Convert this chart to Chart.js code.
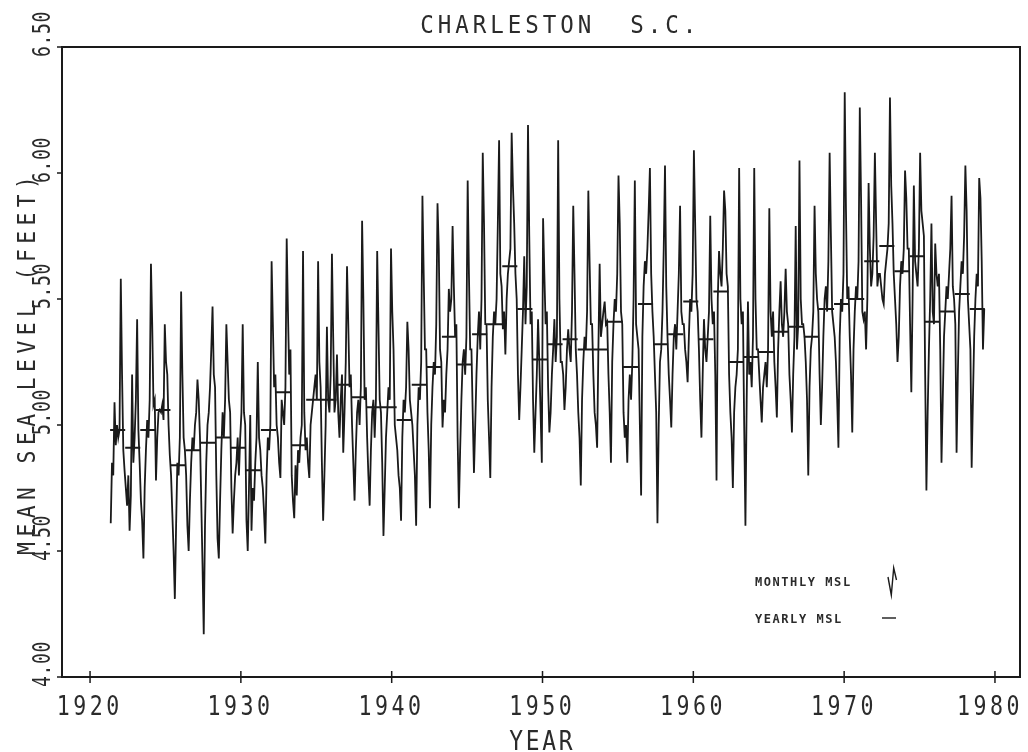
<!DOCTYPE html>
<html>
  <head>
    <title>Charleston S.C. - Mean Sea Level</title>
    <script src="https://cdn.jsdelivr.net/npm/chart.js"></script>
    <style>
      body { margin: 0; background: #fff; }
      #msl-chart { display: block; }
    </style>
  </head>
  <body>
    <canvas id="msl-chart" width="1028" height="752"></canvas>
    <script>
      // yearly bins of the original plot sit about a third of a year right of the tick marks
      var BIN_SHIFT = 0.33;

      var years = [
        1921, 1922, 1923, 1924, 1925, 1926, 1927, 1928, 1929, 1930,
        1931, 1932, 1933, 1934, 1935, 1936, 1937, 1938, 1939, 1940,
        1941, 1942, 1943, 1944, 1945, 1946, 1947, 1948, 1949, 1950,
        1951, 1952, 1953, 1954, 1955, 1956, 1957, 1958, 1959, 1960,
        1961, 1962, 1963, 1964, 1965, 1966, 1967, 1968, 1969, 1970,
        1971, 1972, 1973, 1974, 1975, 1976, 1977, 1978
      ];

      var yearlyMsl = [
        4.98, 4.91, 4.98, 5.06, 4.84, 4.90, 4.93, 4.95, 4.91, 4.82,
        4.98, 5.13, 4.92, 5.10, 5.10, 5.16, 5.11, 5.07, 5.07, 5.02,
        5.16, 5.23, 5.35, 5.24, 5.36, 5.40, 5.63, 5.46, 5.26, 5.32,
        5.34, 5.30, 5.30, 5.41, 5.23, 5.48, 5.32, 5.36, 5.49, 5.34,
        5.53, 5.25, 5.27, 5.29, 5.37, 5.39, 5.35, 5.46, 5.48, 5.50,
        5.65, 5.71, 5.61, 5.67, 5.41, 5.45, 5.52, 5.46
      ];

      // monthly MSL, one row per year (Jan..Dec)
      var monthly1920s = [
        [4.61, 4.85, 4.80, 5.09, 4.92, 5.00, 4.95, 4.98, 5.58, 5.20, 4.90, 4.82],
        [4.75, 4.68, 4.80, 4.58, 4.72, 5.20, 4.85, 4.95, 5.10, 5.42, 4.98, 4.85],
        [4.70, 4.62, 4.47, 4.75, 4.90, 5.02, 4.95, 5.10, 5.64, 5.40, 5.08, 5.10],
        [4.78, 4.95, 5.05, 5.06, 5.05, 5.08, 5.02, 5.40, 5.25, 5.20, 5.00, 4.88],
        [4.80, 4.65, 4.50, 4.31, 4.60, 4.85, 4.80, 4.95, 5.53, 5.20, 4.95, 4.90],
        [4.80, 4.60, 4.50, 4.70, 4.85, 4.95, 4.90, 5.00, 5.05, 5.18, 5.10, 4.95],
        [4.70, 4.45, 4.17, 4.60, 4.85, 5.00, 5.05, 5.15, 5.30, 5.47, 5.20, 5.15],
        [4.80, 4.55, 4.47, 4.70, 4.90, 5.05, 4.95, 5.10, 5.40, 5.25, 5.10, 5.05],
        [4.75, 4.57, 4.70, 4.80, 4.85, 4.95, 4.80, 4.95, 5.05, 5.40, 5.05, 5.00]
      ];
      var monthly1930s = [
        [4.62, 4.50, 4.75, 5.04, 4.58, 4.75, 4.70, 4.85, 4.95, 5.25, 4.95, 4.90],
        [4.80, 4.75, 4.65, 4.53, 4.80, 4.95, 4.90, 5.00, 5.65, 5.40, 5.15, 5.20],
        [5.00, 4.95, 4.85, 4.79, 5.10, 5.05, 5.00, 5.15, 5.74, 5.45, 5.20, 5.30],
        [4.80, 4.70, 4.63, 4.84, 4.72, 4.90, 4.85, 4.95, 5.00, 5.69, 5.05, 4.90],
        [4.95, 4.85, 4.79, 5.00, 5.05, 5.10, 5.15, 5.20, 5.10, 5.65, 5.25, 5.15],
        [4.85, 4.62, 4.80, 5.00, 5.39, 5.10, 5.05, 5.20, 5.68, 5.35, 5.05, 5.10],
        [5.28, 5.05, 4.95, 5.10, 5.20, 4.89, 5.05, 5.25, 5.63, 5.40, 5.15, 5.20],
        [5.00, 4.85, 4.70, 4.90, 5.05, 5.10, 5.00, 5.15, 5.81, 5.50, 5.10, 5.15],
        [4.95, 4.80, 4.68, 4.90, 5.05, 5.10, 4.95, 5.10, 5.69, 5.40, 5.10, 5.05],
        [4.85, 4.56, 4.75, 4.95, 5.05, 5.15, 5.10, 5.70, 5.45, 5.30, 5.00, 4.95]
      ];
      var monthly1940s = [
        [4.90, 4.80, 4.75, 4.62, 4.95, 5.10, 5.05, 5.15, 5.41, 5.30, 5.10, 5.05],
        [5.00, 4.90, 4.80, 4.60, 5.00, 5.15, 5.10, 5.25, 5.91, 5.60, 5.30, 5.30],
        [5.05, 4.90, 4.67, 5.00, 5.15, 5.25, 5.20, 5.40, 5.88, 5.70, 5.30, 5.25],
        [4.99, 5.10, 5.05, 5.20, 5.30, 5.54, 5.45, 5.50, 5.79, 5.55, 5.35, 5.40],
        [4.95, 4.67, 4.90, 5.10, 5.25, 5.30, 5.20, 5.35, 5.97, 5.60, 5.30, 5.30],
        [5.05, 4.81, 5.00, 5.20, 5.35, 5.45, 5.30, 5.50, 6.08, 5.80, 5.40, 5.40],
        [5.10, 4.95, 4.79, 5.15, 5.35, 5.45, 5.40, 5.50, 5.80, 6.13, 5.60, 5.55],
        [5.38, 5.45, 5.28, 5.50, 5.60, 5.65, 5.70, 6.16, 5.95, 5.80, 5.60, 5.50],
        [5.20, 5.02, 5.15, 5.30, 5.45, 5.67, 5.40, 5.55, 6.19, 5.75, 5.40, 5.45],
        [5.10, 4.89, 5.05, 5.20, 5.42, 5.25, 5.05, 4.85, 5.82, 5.60, 5.40, 5.45]
      ];
      var monthly1950s = [
        [5.15, 4.97, 5.05, 5.20, 5.30, 5.42, 5.25, 5.35, 6.13, 5.50, 5.25, 5.25],
        [5.20, 5.06, 5.15, 5.30, 5.38, 5.30, 5.25, 5.45, 5.87, 5.60, 5.30, 5.20],
        [5.05, 4.95, 4.76, 5.10, 5.25, 5.35, 5.30, 5.45, 5.93, 5.65, 5.40, 5.40],
        [5.20, 5.05, 5.00, 4.91, 5.30, 5.64, 5.35, 5.40, 5.45, 5.49, 5.40, 5.41],
        [5.20, 5.05, 4.85, 5.25, 5.40, 5.50, 5.45, 5.60, 5.99, 5.80, 5.45, 5.40],
        [5.05, 4.95, 5.00, 4.85, 5.10, 5.20, 5.10, 5.25, 5.50, 5.97, 5.40, 5.35],
        [5.30, 5.00, 4.72, 5.35, 5.55, 5.65, 5.60, 5.70, 5.85, 6.02, 5.60, 5.45],
        [5.35, 5.20, 5.05, 4.61, 5.00, 5.25, 5.30, 5.45, 5.70, 6.03, 5.55, 5.35],
        [5.20, 5.10, 4.99, 5.20, 5.35, 5.40, 5.30, 5.45, 5.60, 5.87, 5.45, 5.40],
        [5.40, 5.30, 5.25, 5.17, 5.35, 5.50, 5.45, 5.60, 6.09, 5.80, 5.50, 5.45]
      ];
      var monthly1960s = [
        [5.30, 5.10, 4.95, 5.20, 5.42, 5.30, 5.25, 5.35, 5.45, 5.83, 5.50, 5.40],
        [5.45, 5.20, 4.78, 5.50, 5.69, 5.60, 5.55, 5.70, 5.93, 5.85, 5.60, 5.55],
        [5.20, 5.05, 4.95, 4.75, 5.05, 5.15, 5.20, 5.30, 6.02, 5.50, 5.40, 5.45],
        [5.00, 4.60, 5.10, 5.49, 5.20, 5.25, 5.15, 5.35, 6.02, 5.50, 5.30, 5.30],
        [5.20, 5.10, 5.01, 5.15, 5.20, 5.25, 5.15, 5.30, 5.86, 5.45, 5.35, 5.45],
        [5.25, 5.15, 5.03, 5.30, 5.45, 5.57, 5.40, 5.35, 5.45, 5.62, 5.45, 5.40],
        [5.20, 5.10, 4.97, 5.20, 5.35, 5.79, 5.30, 5.40, 6.05, 5.50, 5.40, 5.40],
        [5.35, 5.25, 5.10, 4.80, 5.15, 5.30, 5.35, 5.45, 5.87, 5.60, 5.50, 5.45],
        [5.20, 5.00, 5.15, 5.35, 5.50, 5.55, 5.45, 5.65, 6.08, 5.75, 5.45, 5.40],
        [5.35, 5.25, 5.10, 4.91, 5.35, 5.50, 5.45, 5.60, 6.32, 5.85, 5.50, 5.55]
      ];
      var monthly1970s = [
        [5.35, 5.20, 4.97, 5.30, 5.45, 5.55, 5.50, 5.65, 6.26, 5.90, 5.45, 5.42],
        [5.45, 5.30, 5.50, 5.96, 5.70, 5.55, 5.60, 5.75, 6.08, 5.80, 5.55, 5.60],
        [5.60, 5.55, 5.50, 5.48, 5.60, 5.65, 5.70, 5.80, 6.30, 5.95, 5.80, 5.60],
        [5.50, 5.40, 5.25, 5.35, 5.55, 5.65, 5.60, 5.70, 6.01, 5.90, 5.70, 5.70],
        [5.40, 5.13, 5.50, 5.95, 5.65, 5.60, 5.55, 5.70, 6.08, 5.85, 5.80, 5.75],
        [5.20, 4.74, 5.05, 5.30, 5.50, 5.80, 5.45, 5.40, 5.72, 5.60, 5.55, 5.60],
        [5.30, 4.85, 5.10, 5.35, 5.45, 5.55, 5.50, 5.60, 5.70, 5.91, 5.55, 5.50],
        [5.40, 4.89, 5.20, 5.45, 5.55, 5.65, 5.60, 5.75, 6.03, 5.85, 5.50, 5.40],
        [5.30, 4.83, 5.10, 5.35, 5.50, 5.60, 5.55, 5.98, 5.90, 5.65, 5.30, 5.46]
      ];

      var xTickYears = [1920, 1930, 1940, 1950, 1960, 1970, 1980];
      var yTickValues = [4.0, 4.5, 5.0, 5.5, 6.0, 6.5];
      var yTickLabels = ['4.00', '4.50', '5.00', '5.50', '6.00', '6.50'];

      var monthlyRows = monthly1920s.concat(monthly1930s, monthly1940s,
        monthly1950s, monthly1960s, monthly1970s);

      var monthlyPoints = [];
      years.forEach(function (yr, i) {
        monthlyRows[i].forEach(function (v, m) {
          monthlyPoints.push({ x: yr + BIN_SHIFT + (m + 0.5) / 12, y: v });
        });
      });

      var yearlyPoints = [];
      years.forEach(function (yr, i) {
        yearlyPoints.push({ x: yr + BIN_SHIFT, y: yearlyMsl[i] });
        yearlyPoints.push({ x: yr + 1 + BIN_SHIFT, y: yearlyMsl[i] });
        yearlyPoints.push({ x: yr + 1 + BIN_SHIFT, y: null });
      });

      var plotterFont = "'DejaVu Sans Mono', 'Liberation Mono', monospace";
      var ink = '#1a1a1a';
      var textInk = '#2b2b2b';

      // draw text one glyph at a time, like a pen plotter
      function drawChars(c, text, x, y, pitch, squeeze) {
        for (var i = 0; i < text.length; i++) {
          c.save();
          c.translate(x + i * pitch, y);
          c.scale(squeeze, 1);
          c.fillText(text[i], 0, 0);
          c.restore();
        }
      }

      var plotterAxes = {
        id: 'plotterAxes',
        afterDraw: function (chart) {
          var c = chart.ctx;
          var area = chart.chartArea;
          var xs = chart.scales.x;
          var ys = chart.scales.y;
          c.save();
          c.strokeStyle = ink;
          c.fillStyle = textInk;

          // frame
          c.lineWidth = 2;
          c.strokeRect(area.left, area.top, area.right - area.left, area.bottom - area.top);

          // tick marks
          c.lineWidth = 1.5;
          xTickYears.forEach(function (yr) {
            var px = xs.getPixelForValue(yr);
            c.beginPath();
            c.moveTo(px, area.bottom - 6);
            c.lineTo(px, area.bottom + 6);
            c.stroke();
          });
          yTickValues.forEach(function (v) {
            var py = ys.getPixelForValue(v);
            c.beginPath();
            c.moveTo(area.left - 5, py);
            c.lineTo(area.left, py);
            c.stroke();
          });

          c.textAlign = 'center';
          c.textBaseline = 'alphabetic';

          // x tick labels
          c.font = '27px ' + plotterFont;
          xTickYears.forEach(function (yr) {
            var label = String(yr);
            var pitch = 16.5;
            var half = (label.length - 1) * pitch / 2 + 7;
            var cx = Math.min(xs.getPixelForValue(yr) - 2, area.right - half);
            drawChars(c, label, cx - (label.length - 1) * pitch / 2, area.bottom + 38, pitch, 0.8);
          });

          // y tick labels, rotated
          c.font = '24px ' + plotterFont;
          yTickValues.forEach(function (v, i) {
            var py = ys.getPixelForValue(v);
            c.save();
            c.translate(area.left - 12, py + 4.5);
            c.rotate(-Math.PI / 2);
            drawChars(c, yTickLabels[i], 0, 0, 11.5, 0.75);
            c.restore();
          });

          // axis titles
          c.font = '25px ' + plotterFont;
          var yTitle = 'MEAN SEA LEVEL (FEET)';
          var midY = (area.top + area.bottom) / 2;
          c.save();
          c.translate(area.left - 27, midY + 3.5 + (yTitle.length - 1) * 18.3 / 2);
          c.rotate(-Math.PI / 2);
          drawChars(c, yTitle, 0, 0, 18.3, 0.85);
          c.restore();

          c.font = '27px ' + plotterFont;
          var midX = (area.left + area.right) / 2;
          drawChars(c, 'YEAR', midX - 1.5 * 16.5, 750, 16.5, 0.85);

          // title
          c.font = '25px ' + plotterFont;
          drawChars(c, 'CHARLESTON  S.C.', area.left + 365, 33, 17.5, 0.9);

          // legend
          c.font = 'bold 12px ' + plotterFont;
          drawChars(c, 'MONTHLY MSL', 758.5, 586, 8.8, 1);
          drawChars(c, 'YEARLY MSL', 758.5, 623, 8.8, 1);
          c.lineWidth = 1.4;
          c.beginPath();
          c.moveTo(888, 577);
          c.lineTo(891.3, 595);
          c.lineTo(893.7, 568);
          c.lineTo(896.5, 580);
          c.stroke();
          c.beginPath();
          c.moveTo(882, 618);
          c.lineTo(896, 618);
          c.stroke();

          c.restore();
        }
      };

      var canvas = document.getElementById('msl-chart');
      var ctx = canvas.getContext('2d');

      var mslChart = new Chart(ctx, {
        type: 'line',
        data: {
          datasets: [
            {
              label: 'YEARLY MSL',
              data: yearlyPoints,
              borderColor: ink,
              borderWidth: 2,
              pointRadius: 0,
              spanGaps: false,
              tension: 0
            },
            {
              label: 'MONTHLY MSL',
              data: monthlyPoints,
              borderColor: ink,
              borderWidth: 1.8,
              pointRadius: 0,
              tension: 0
            }
          ]
        },
        options: {
          responsive: false,
          devicePixelRatio: 1,
          animation: false,
          layout: {
            padding: { left: 62, right: 8, top: 47, bottom: 75 }
          },
          plugins: {
            legend: { display: false },
            tooltip: { enabled: false }
          },
          scales: {
            x: { type: 'linear', display: false, min: 1918.14, max: 1981.66 },
            y: { type: 'linear', display: false, min: 4.0, max: 6.5 }
          }
        },
        plugins: [plotterAxes]
      });
    </script>
  </body>
</html>
